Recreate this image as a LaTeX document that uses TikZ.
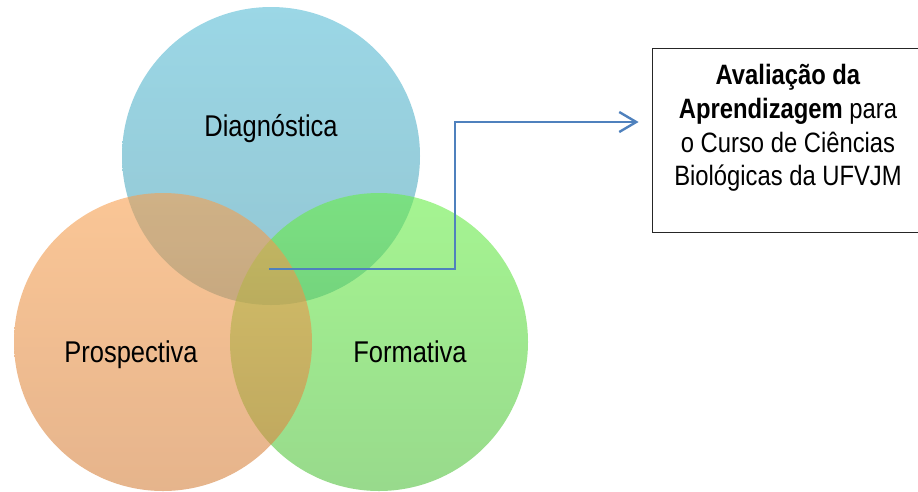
\documentclass[tikz,border=0pt]{standalone}
\usepackage{fontspec}
\setmainfont{Liberation Sans}[FakeStretch=0.85]
\usetikzlibrary{positioning,arrows.meta}

\definecolor{diagtop}{RGB}{88,188,213}
\definecolor{diagbot}{RGB}{75,160,180}
\definecolor{formtop}{RGB}{105,238,72}
\definecolor{formbot}{RGB}{83,193,63}
\definecolor{prosptop}{RGB}{247,160,80}
\definecolor{prospbot}{RGB}{213,130,63}
\definecolor{flowblue}{RGB}{79,129,189}

\begin{document}
\begin{tikzpicture}[x=1pt,y=-1pt,
    venn circle/.style={circle,minimum size=298pt,inner sep=0pt,fill opacity=0.6},
    venn label/.style={anchor=base,font=\fontsize{30}{36}\selectfont},
    note box/.style={draw=black!85,line width=0.8pt,minimum width=274pt,minimum height=184pt,inner sep=0pt},
    note text/.style={align=center,font=\fontsize{28}{33.7}\selectfont},
    flow/.style={-{Straight Barb[length=17pt,width=20pt]},line width=2.4pt,draw=flowblue}]

    \useasboundingbox (0,0) rectangle (918,491);

    % the three circles
    \node[venn circle,top color=diagtop,bottom color=diagbot] (diag) at (271,156) {};
    \node[venn circle,top color=formtop,bottom color=formbot] (form) at (379,342) {};
    \node[venn circle,top color=prosptop,bottom color=prospbot] (prosp) at (163,342) {};

    \node[venn label] (tdiag) at (271,136) {Diagnóstica};
    \node[venn label] (tprosp) at (131,362) {Prospectiva};
    \node[venn label] (tform) at (410,362) {Formativa};

    % box on the right, its right side runs off the page
    \node[note box] (box) at (789,140) {};
    \node[note text] (boxtext) at (788,128) {\textbf{Avaliação da}\\\textbf{Aprendizagem} para\\o Curso de Ciências\\Biológicas da UFVJM};

    \coordinate (venn) at (269,269);
    \coordinate (tip) at ([xshift=-13pt,yshift=18pt]box.west);
    \coordinate (bend) at (455,122);

    \draw[flow] (venn) -| (bend) -- (tip);
\end{tikzpicture}
\end{document}
